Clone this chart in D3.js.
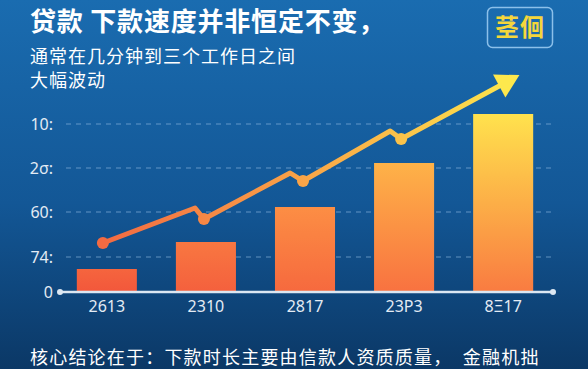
<!DOCTYPE html>
<html>
<head>
<meta charset="utf-8">
<script src="https://cdn.jsdelivr.net/npm/d3@7"></script>
<style>
    html, body { margin: 0; padding: 0; background: #0f4a84; }
    svg { display: block; font-family: "Noto Sans CJK SC", "Noto Sans", sans-serif; }
</style>
</head>
<body>
<svg id="chart"></svg>
<script>
// data (labels are as printed)
const years = ["2613", "2310", "2817", "23P3", "8Ξ17"];
const barValues = [23, 50, 85, 129, 178];
const yTicks = [0, 35, 80, 124, 168];
const yTickLabels = ["0", "74:", "60:", "2σ:", "10:"];
// trend line: position along the categories (0 = first bar) and value
const lineIdx = [-0.04, 0.89, 0.98, 1.85, 1.98, 2.86, 2.97, 3.96];
const lineVal = [49, 84, 73, 119, 111, 161, 153, 206];
const dotIdx = [0, 2, 4, 6];

const title = "贷款 下款速度并非恒定不变，";
const subtitle = ["通常在几分钟到三个工作日之间", "大幅波动"];
const footer = "核心结论在于：下款时长主要由信款人资质质量，  金融机拙";
const badge = "茎佪";

const W = 588, H = 369;
const svg = d3.select("#chart").attr("width", W).attr("height", H);
const defs = svg.append("defs");

// background
const bg = defs.append("linearGradient").attr("id", "bg")
    .attr("x1", 0).attr("y1", 0).attr("x2", 0).attr("y2", 1);
bg.append("stop").attr("offset", "0%").attr("stop-color", "#1a6cb0");
bg.append("stop").attr("offset", "55%").attr("stop-color", "#135796");
bg.append("stop").attr("offset", "100%").attr("stop-color", "#0b3866");
svg.append("rect").attr("width", W).attr("height", H).attr("fill", "url(#bg)");

// scales
const x = d3.scaleBand().domain(years).range([57, 553])
    .paddingInner(0.394).paddingOuter(0.2);
const y = d3.scaleLinear().domain([0, 180]).range([292, 112]);
const c0 = x(years[0]) + x.bandwidth() / 2;
const xi = d3.scaleLinear().domain([0, 1]).range([c0, c0 + x.step()]);

const heat = d3.interpolateRgbBasis(["#f2573b", "#fa7c42", "#fea547", "#ffe24d"]);

// gridlines
svg.append("g").selectAll("line")
    .data(yTicks.slice(1))
    .join("line")
    .attr("x1", 66).attr("x2", 553)
    .attr("y1", d => y(d)).attr("y2", d => y(d))
    .attr("stroke", "#8fb6dc").attr("stroke-opacity", 0.65)
    .attr("stroke-width", 1.2)
    .attr("stroke-dasharray", "5 5");

// y axis labels
const yAxis = svg.append("g")
    .attr("transform", "translate(53,0)")
    .call(d3.axisLeft(y).tickValues(yTicks)
        .tickFormat((d, i) => yTickLabels[i]).tickSize(0).tickPadding(0));
yAxis.select(".domain").remove();
yAxis.selectAll("text")
    .attr("fill", "#e3ebf4")
    .style("font-size", "16px")
    .style("font-family", "\"Noto Sans\", sans-serif");

// bars with their own gradients
barValues.forEach((v, i) => {
    const g = defs.append("linearGradient").attr("id", "bar" + i)
        .attr("x1", 0).attr("y1", 1).attr("x2", 0).attr("y2", 0);
    g.append("stop").attr("offset", "0%").attr("stop-color", heat(i * 0.08));
    g.append("stop").attr("offset", "100%").attr("stop-color", heat(v / d3.max(barValues)));
});
svg.append("g").selectAll("rect")
    .data(barValues)
    .join("rect")
    .attr("x", (d, i) => x(years[i]))
    .attr("y", d => y(d))
    .attr("width", x.bandwidth())
    .attr("height", d => y(0) - y(d))
    .attr("fill", (d, i) => `url(#bar${i})`);

// x axis line
svg.append("line")
    .attr("x1", 60).attr("x2", 553)
    .attr("y1", y(0)).attr("y2", y(0))
    .attr("stroke", "#dce7f2").attr("stroke-width", 2.5);
svg.append("g").selectAll("circle")
    .data([60, 553])
    .join("circle")
    .attr("cx", d => d).attr("cy", y(0)).attr("r", 3)
    .attr("fill", "#dce7f2");

// x labels
const xAxis = svg.append("g")
    .attr("transform", `translate(0,${y(0) + 9})`)
    .call(d3.axisBottom(x).tickSize(0).tickPadding(0));
xAxis.select(".domain").remove();
xAxis.selectAll("text")
    .attr("fill", "#e3ebf4")
    .style("font-size", "16px")
    .style("font-family", "\"Noto Sans\", sans-serif");

// trend line
const pts = lineIdx.map((d, i) => [xi(d), y(lineVal[i])]);
const lg = defs.append("linearGradient").attr("id", "lineGrad")
    .attr("gradientUnits", "userSpaceOnUse")
    .attr("x1", pts[0][0]).attr("y1", 0).attr("x2", 520).attr("y2", 0);
lg.append("stop").attr("offset", "0%").attr("stop-color", "#f26a42");
lg.append("stop").attr("offset", "45%").attr("stop-color", "#f9a047");
lg.append("stop").attr("offset", "100%").attr("stop-color", "#fde84d");

svg.append("path")
    .attr("d", d3.line()(pts))
    .attr("fill", "none")
    .attr("stroke", "url(#lineGrad)")
    .attr("stroke-width", 5)
    .attr("stroke-linejoin", "round")
    .attr("stroke-linecap", "round");

svg.append("g").selectAll("circle")
    .data(dotIdx)
    .join("circle")
    .attr("cx", d => pts[d][0])
    .attr("cy", d => pts[d][1])
    .attr("r", 6)
    .attr("fill", "url(#lineGrad)");

// arrow head, from the direction of the last segment
const a = pts[pts.length - 2], b = pts[pts.length - 1];
const len = Math.hypot(b[0] - a[0], b[1] - a[1]);
const ux = (b[0] - a[0]) / len, uy = (b[1] - a[1]) / len;
const tip = [b[0] + ux * 23, b[1] + uy * 23];
svg.append("path")
    .attr("d", d3.line()([
        tip,
        [b[0] - uy * 13, b[1] + ux * 13],
        [b[0] + uy * 13, b[1] - ux * 13]
    ]) + "Z")
    .attr("fill", "#fde84d");

// titles
svg.append("text")
    .attr("x", 30).attr("y", 31)
    .attr("fill", "#ffffff")
    .style("font-size", "26px").style("font-weight", "bold")
    .style("letter-spacing", "0.8px")
    .text(title);

svg.append("g").selectAll("text")
    .data(subtitle)
    .join("text")
    .attr("x", 30).attr("y", (d, i) => 63 + i * 24)
    .attr("fill", "#ffffff")
    .style("font-size", "18px")
    .style("letter-spacing", "1px")
    .text(d => d);

svg.append("text")
    .attr("x", 30).attr("y", 364)
    .attr("fill", "#ffffff")
    .style("font-size", "18px")
    .style("letter-spacing", "1.2px")
    .style("white-space", "pre")
    .text(footer);

// badge
svg.append("rect")
    .attr("x", 487.5).attr("y", 7.5).attr("width", 65).attr("height", 40).attr("rx", 5)
    .attr("fill", "none").attr("stroke", "#8cc0ea").attr("stroke-width", 1.5);
svg.append("text")
    .attr("x", 520).attr("y", 36)
    .attr("text-anchor", "middle")
    .attr("fill", "#f5d63c")
    .style("font-size", "24px").style("font-weight", "bold")
    .style("letter-spacing", "1px")
    .text(badge);
</script>
</body>
</html>
